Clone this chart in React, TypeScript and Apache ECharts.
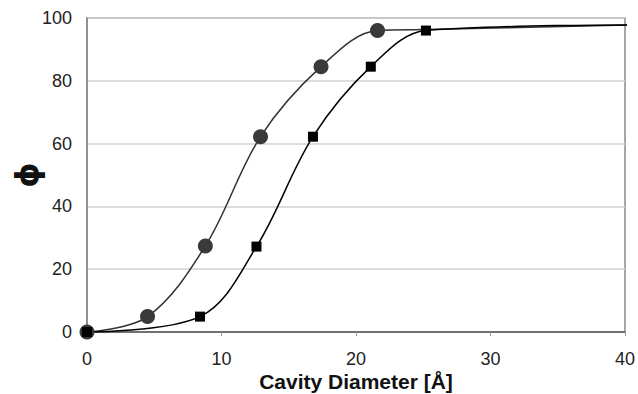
import React, { useEffect, useRef } from "react";
import * as echarts from "echarts";

const circleX = [0, 4.5, 8.8, 12.9, 17.4, 21.6];
const circleY = [0, 4.9, 27.4, 62.2, 84.5, 96];
const squareX = [0, 8.4, 12.6, 16.8, 21.1, 25.2];
const squareY = [0, 4.9, 27.2, 62.2, 84.5, 96];
// unmarked tail points of the smoothed lines
const circleTailX = [25.2, 40.5];
const circleTailY = [96.3, 97.8];
const squareTailX = [40.5];
const squareTailY = [97.8];
const xTicks = [0, 10, 20, 30, 40];

const zip = (xs: number[], ys: number[]) => xs.map((x, i) => [x, ys[i]]);

export default function App() {
  const ref = useRef<HTMLDivElement>(null);
  useEffect(() => {
    if (!ref.current) return;
    const chart = echarts.init(ref.current, null, { renderer: "svg" });
    chart.setOption({
      animation: false,
      grid: {
        left: 87,
        right: 13,
        top: 18,
        bottom: 62,
        containLabel: false,
        outerBoundsMode: "none",
        show: true,
        borderColor: "#8a8a8a",
        borderWidth: 1.5,
      },
      xAxis: {
        type: "value",
        min: xTicks[0],
        max: xTicks[xTicks.length - 1],
        interval: 10,
        name: "Cavity Diameter [Å]",
        nameLocation: "middle",
        nameGap: 39,
        nameMoveOverlap: false,
        nameTextStyle: {
          fontFamily: "Liberation Sans",
          fontSize: 21,
          lineHeight: 21,
          fontWeight: "bold",
          color: "#111",
        },
        axisLine: { show: true, lineStyle: { color: "#555", width: 1.5 } },
        axisTick: { show: true, length: 4, lineStyle: { color: "#999" } },
        axisLabel: {
          fontFamily: "Liberation Sans",
          fontSize: 18,
          color: "#222",
          margin: 18,
        },
        splitLine: { show: false },
      },
      yAxis: {
        type: "value",
        min: 0,
        max: 100,
        interval: 20,
        name: "ϕ",
        nameLocation: "middle",
        nameRotate: 90,
        nameGap: 44,
        nameMoveOverlap: false,
        nameTextStyle: {
          fontFamily: "DejaVu Sans",
          fontSize: 32,
          lineHeight: 32,
          fontWeight: "bold",
          color: "#111",
        },
        axisLine: { show: true, lineStyle: { color: "#8a8a8a", width: 1.5 } },
        axisTick: { show: false },
        axisLabel: {
          fontFamily: "Liberation Sans",
          fontSize: 18,
          color: "#222",
          margin: 15,
        },
        splitLine: { show: true, lineStyle: { color: "#d2d2d2", width: 1.5 } },
      },
      series: [
        {
          type: "line",
          data: zip(circleX.concat(circleTailX), circleY.concat(circleTailY)),
          smooth: 0.35,
          showSymbol: false,
          symbol: "none",
          clip: false,
          lineStyle: { color: "#333", width: 1.5 },
          z: 2,
        },
        {
          type: "line",
          data: zip(squareX.concat(squareTailX), squareY.concat(squareTailY)),
          smooth: 0.35,
          showSymbol: false,
          symbol: "none",
          clip: false,
          lineStyle: { color: "#000", width: 1.5 },
          z: 2,
        },
        {
          type: "scatter",
          data: zip(circleX, circleY),
          symbol: "circle",
          symbolSize: 15,
          itemStyle: { color: "#3a3a3a", opacity: 1 },
          z: 3,
        },
        {
          type: "scatter",
          data: zip(squareX, squareY),
          symbol: "rect",
          symbolSize: 10,
          itemStyle: { color: "#000", opacity: 1 },
          z: 4,
        },
      ],
    });
    return () => chart.dispose();
  }, []);
  return (
    <div
      ref={ref}
      style={{ position: "absolute", left: 0, top: 0, width: 638, height: 394 }}
    />
  );
}
